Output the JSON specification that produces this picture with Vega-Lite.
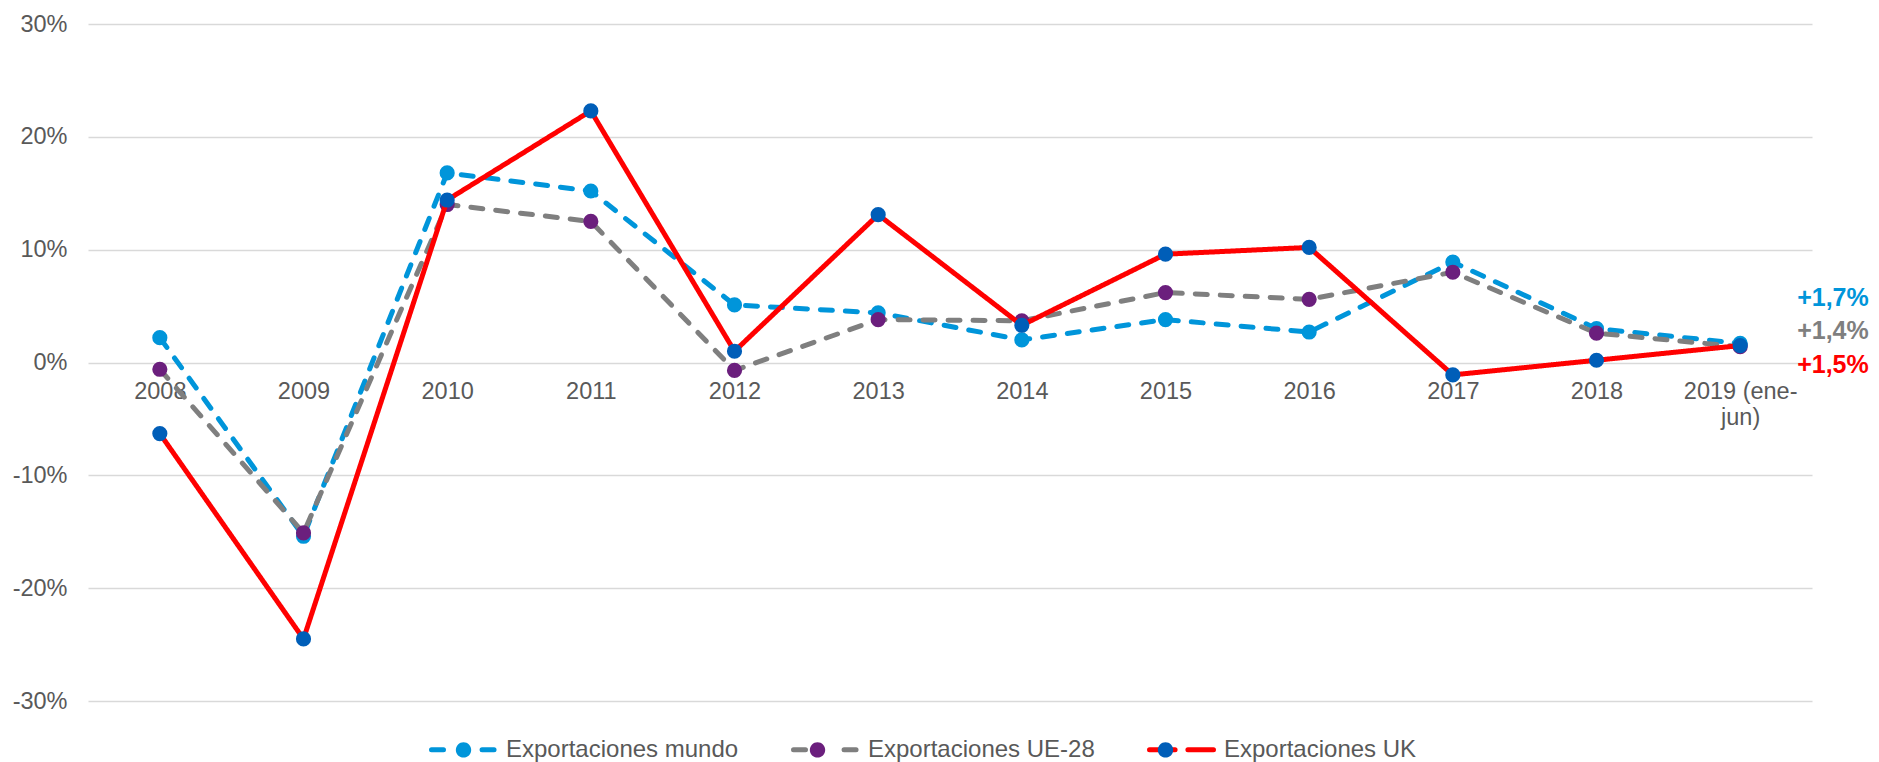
{
  "$schema": "https://vega.github.io/schema/vega-lite/v6.json",
  "width": 1724,
  "height": 677,
  "autosize": {"type": "none"},
  "padding": {"left": 88, "top": 24, "right": 67, "bottom": 61},
  "background": "white",
  "config": {
    "view": {"stroke": null},
    "font": "Liberation Sans",
    "locale": {"number": {"decimal": ",", "thousands": ".", "grouping": [3], "currency": ["", " €"], "minus": "-"}}
  },
  "data": {
    "values": [
      {"anio": "2008", "serie": "Exportaciones mundo", "valor": 0.022},
      {"anio": "2009", "serie": "Exportaciones mundo", "valor": -0.154},
      {"anio": "2010", "serie": "Exportaciones mundo", "valor": 0.168},
      {"anio": "2011", "serie": "Exportaciones mundo", "valor": 0.152},
      {"anio": "2012", "serie": "Exportaciones mundo", "valor": 0.051},
      {"anio": "2013", "serie": "Exportaciones mundo", "valor": 0.044},
      {"anio": "2014", "serie": "Exportaciones mundo", "valor": 0.020},
      {"anio": "2015", "serie": "Exportaciones mundo", "valor": 0.038},
      {"anio": "2016", "serie": "Exportaciones mundo", "valor": 0.027},
      {"anio": "2017", "serie": "Exportaciones mundo", "valor": 0.089},
      {"anio": "2018", "serie": "Exportaciones mundo", "valor": 0.030},
      {"anio": "2019 (ene-jun)", "serie": "Exportaciones mundo", "valor": 0.017},
      {"anio": "2008", "serie": "Exportaciones UE-28", "valor": -0.006},
      {"anio": "2009", "serie": "Exportaciones UE-28", "valor": -0.151},
      {"anio": "2010", "serie": "Exportaciones UE-28", "valor": 0.140},
      {"anio": "2011", "serie": "Exportaciones UE-28", "valor": 0.125},
      {"anio": "2012", "serie": "Exportaciones UE-28", "valor": -0.007},
      {"anio": "2013", "serie": "Exportaciones UE-28", "valor": 0.038},
      {"anio": "2014", "serie": "Exportaciones UE-28", "valor": 0.037},
      {"anio": "2015", "serie": "Exportaciones UE-28", "valor": 0.062},
      {"anio": "2016", "serie": "Exportaciones UE-28", "valor": 0.056},
      {"anio": "2017", "serie": "Exportaciones UE-28", "valor": 0.080},
      {"anio": "2018", "serie": "Exportaciones UE-28", "valor": 0.026},
      {"anio": "2019 (ene-jun)", "serie": "Exportaciones UE-28", "valor": 0.014},
      {"anio": "2008", "serie": "Exportaciones UK", "valor": -0.063},
      {"anio": "2009", "serie": "Exportaciones UK", "valor": -0.245},
      {"anio": "2010", "serie": "Exportaciones UK", "valor": 0.144},
      {"anio": "2011", "serie": "Exportaciones UK", "valor": 0.223},
      {"anio": "2012", "serie": "Exportaciones UK", "valor": 0.010},
      {"anio": "2013", "serie": "Exportaciones UK", "valor": 0.131},
      {"anio": "2014", "serie": "Exportaciones UK", "valor": 0.033},
      {"anio": "2015", "serie": "Exportaciones UK", "valor": 0.096},
      {"anio": "2016", "serie": "Exportaciones UK", "valor": 0.102},
      {"anio": "2017", "serie": "Exportaciones UK", "valor": -0.011},
      {"anio": "2018", "serie": "Exportaciones UK", "valor": 0.002},
      {"anio": "2019 (ene-jun)", "serie": "Exportaciones UK", "valor": 0.015}
    ]
  },
  "encoding": {
    "x": {
      "field": "anio",
      "type": "nominal",
      "scale": {"type": "point", "padding": 0.5, "domain": ["2008", "2009", "2010", "2011", "2012", "2013", "2014", "2015", "2016", "2017", "2018", "2019 (ene-jun)"]},
      "axis": {
        "title": null,
        "offset": -339,
        "domain": false,
        "ticks": false,
        "grid": false,
        "labelAngle": 0,
        "labelFontSize": 23.5,
        "labelColor": "#595959",
        "labelPadding": 17,
        "labelLineHeight": 26,
        "labelExpr": "datum.label == '2019 (ene-jun)' ? ['2019 (ene-', 'jun)'] : datum.label"
      }
    },
    "y": {
      "field": "valor",
      "type": "quantitative",
      "scale": {"domain": [-0.3, 0.3], "nice": false, "zero": false},
      "axis": {
        "title": null,
        "values": [-0.3, -0.2, -0.1, 0, 0.1, 0.2, 0.3],
        "format": ".0%",
        "domain": false,
        "ticks": false,
        "grid": true,
        "gridColor": "#D9D9D9",
        "gridWidth": 1.5,
        "labelFontSize": 23.5,
        "labelColor": "#595959",
        "labelPadding": 21
      }
    }
  },
  "layer": [
    {
      "transform": [{"filter": "datum.serie == 'Exportaciones mundo'"}],
      "mark": {"type": "line", "strokeWidth": 5, "strokeCap": "round"},
      "encoding": {
        "color": {
          "field": "serie", "type": "nominal",
          "scale": {"domain": ["Exportaciones mundo", "Exportaciones UE-28", "Exportaciones UK"], "range": ["#0095DA", "#7F7F7F", "#FF0000"]},
          "legend": {
            "title": null, "orient": "none", "legendX": 341, "legendY": 691, "direction": "horizontal",
            "symbolSize": 4096, "symbolStrokeWidth": 5, "labelFontSize": 24, "labelColor": "#595959",
            "labelOffset": 8, "labelLimit": 500, "columnPadding": 44, "padding": 0,
            "symbolType": "M-1,0H-0.58M0.58,0H1",
            "encode": {"symbols": {"update": {
              "shape": {"signal": "datum.value === 'Exportaciones UK' ? 'M-1,0H-0.2M0.2,0H1' : 'M-1,0H-0.58M0.58,0H1'"},
              "strokeCap": {"value": "round"},
              "strokeDash": {"value": []}
            }}}
          }
        },
        "strokeDash": {
          "field": "serie", "type": "nominal",
          "scale": {"domain": ["Exportaciones mundo", "Exportaciones UE-28", "Exportaciones UK"], "range": [[12, 13], [12, 13], [1, 0]]},
          "legend": null
        }
      }
    },
    {
      "transform": [{"filter": "datum.serie == 'Exportaciones mundo'"}],
      "mark": {"type": "point", "filled": true, "size": 230, "opacity": 1, "strokeWidth": 0},
      "encoding": {
        "fill": {
          "field": "serie", "type": "nominal",
          "scale": {"domain": ["Exportaciones mundo", "Exportaciones UE-28", "Exportaciones UK", " "], "range": ["#0095DA", "#6B1F7D", "#005EB8", "transparent"]},
          "legend": {
            "title": null, "orient": "none", "legendX": 341, "legendY": 691, "direction": "horizontal",
            "symbolSize": 4096, "symbolStrokeWidth": 5, "symbolStrokeColor": "transparent", "labelFontSize": 24, "labelColor": "#595959",
            "labelOpacity": 0, "labelOffset": 8, "labelLimit": 500, "columnPadding": 44, "padding": 0,
            "symbolType": "M0.24,0A0.24,0.24 0 1,1 -0.24,0A0.24,0.24 0 1,1 0.24,0Z",
            "symbolOpacity": 1,
            "encode": {"symbols": {"update": {"stroke": {"value": "transparent"}}}}
          }
        }
      }
    },
    {
      "transform": [{"filter": "datum.serie == 'Exportaciones UE-28'"}],
      "mark": {"type": "line", "strokeWidth": 5, "strokeCap": "round"},
      "encoding": {
        "color": {"field": "serie", "type": "nominal"},
        "strokeDash": {"field": "serie", "type": "nominal"}
      }
    },
    {
      "transform": [{"filter": "datum.serie == 'Exportaciones UE-28'"}],
      "mark": {"type": "point", "filled": true, "size": 230, "opacity": 1, "strokeWidth": 0},
      "encoding": {"fill": {"field": "serie", "type": "nominal"}}
    },
    {
      "transform": [{"filter": "datum.serie == 'Exportaciones UK'"}],
      "mark": {"type": "line", "strokeWidth": 5, "strokeCap": "round"},
      "encoding": {
        "color": {"field": "serie", "type": "nominal"},
        "strokeDash": {"field": "serie", "type": "nominal"}
      }
    },
    {
      "transform": [{"filter": "datum.serie == 'Exportaciones UK'"}],
      "mark": {"type": "point", "filled": true, "size": 230, "opacity": 1, "strokeWidth": 0},
      "encoding": {"fill": {"field": "serie", "type": "nominal"}}
    },
    {
      "transform": [{"filter": "datum.serie == 'Exportaciones mundo' && datum.anio == '2019 (ene-jun)'"}],
      "mark": {"type": "text", "align": "left", "baseline": "middle", "dx": 57, "dy": -45, "fontSize": 25, "fontWeight": "bold", "fill": "#0095DA"},
      "encoding": {"text": {"field": "valor", "type": "quantitative", "format": "+.1%"}}
    },
    {
      "transform": [{"filter": "datum.serie == 'Exportaciones UE-28' && datum.anio == '2019 (ene-jun)'"}],
      "mark": {"type": "text", "align": "left", "baseline": "middle", "dx": 57, "dy": -16, "fontSize": 25, "fontWeight": "bold", "fill": "#7F7F7F"},
      "encoding": {"text": {"field": "valor", "type": "quantitative", "format": "+.1%"}}
    },
    {
      "transform": [{"filter": "datum.serie == 'Exportaciones UK' && datum.anio == '2019 (ene-jun)'"}],
      "mark": {"type": "text", "align": "left", "baseline": "middle", "dx": 57, "dy": 19, "fontSize": 25, "fontWeight": "bold", "fill": "#FF0000"},
      "encoding": {"text": {"field": "valor", "type": "quantitative", "format": "+.1%"}}
    }
  ]
}
